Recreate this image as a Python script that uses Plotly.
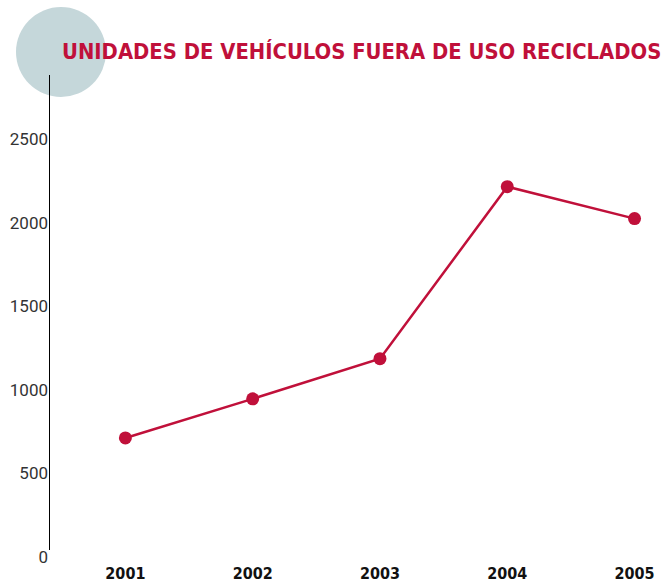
import plotly.graph_objects as go

years = ["2001", "2002", "2003", "2004", "2005"]
units = [712, 946, 1186, 2215, 2024]
y_ticks = [0, 500, 1000, 1500, 2000, 2500]
title_text = "UNIDADES DE VEHÍCULOS FUERA DE USO RECICLADOS"

RED = "#c0103a"
W, H = 663, 583
L, R, T, B = 49, 3, 75, 26
pw = W - L - R
ph = H - T - B

def px_x(px):
    return (px - L) / pw

def px_y(py):
    return (H - B - py) / ph

COND = "DejaVu Sans Condensed, DejaVu Sans"

fig = go.Figure()
fig.add_trace(go.Scatter(
    x=years, y=units, mode="lines+markers",
    line=dict(color=RED, width=2.5),
    marker=dict(color=RED, size=13),
    hoverinfo="x+y", showlegend=False,
))

fig.add_shape(type="circle", xref="paper", yref="paper",
              x0=px_x(16), x1=px_x(106), y0=px_y(97), y1=px_y(7),
              fillcolor="#c5d7da", line=dict(width=0), layer="below")
fig.add_shape(type="line", xref="paper", yref="paper",
              x0=px_x(49.5), x1=px_x(49.5), y0=px_y(550), y1=1,
              line=dict(color="black", width=1))

fig.add_annotation(text="<b>" + title_text + "</b>", xref="paper", yref="paper",
                   x=px_x(60), y=px_y(51.5), xanchor="left", yanchor="middle",
                   showarrow=False,
                   font=dict(family=COND, size=21.8, color=RED))

fig.update_layout(
    width=W, height=H,
    margin=dict(l=L, r=R, t=T, b=B),
    paper_bgcolor="white", plot_bgcolor="white",
    xaxis=dict(type="category", range=[-0.6, 4.2], showgrid=False, zeroline=False,
               showline=False, ticks="outside", ticklen=2, tickcolor="white",
               automargin=False,
               tickfont=dict(family=COND, size=16, color="#111"),
               tickprefix="<b>", ticksuffix="</b>"),
    yaxis=dict(range=[0, 2883], tickvals=y_ticks, showgrid=False, zeroline=False,
               showline=False, ticks="", automargin=False,
               tickfont=dict(family="Roboto", size=17, color="#333")),
)

fig.write_html("out.html", config={"displayModeBar": False},
               post_script="document.body.style.margin='0';document.body.style.overflow='hidden';")
